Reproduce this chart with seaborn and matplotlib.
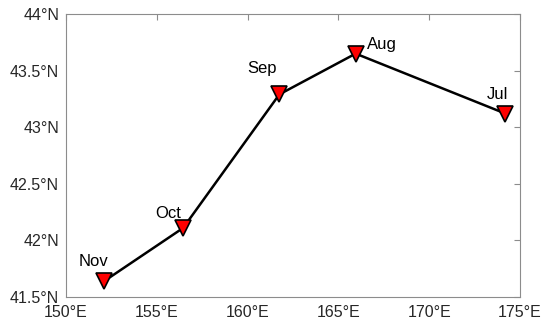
import matplotlib
matplotlib.use("Agg")
import matplotlib.pyplot as plt
import matplotlib.ticker as ticker
import seaborn as sns

# Monthly track positions (lon, lat)
months = ["Nov", "Oct", "Sep", "Aug", "Jul"]
lon = [152.1, 156.45, 161.75, 165.95, 174.2]
lat = [41.64, 42.11, 43.29, 43.65, 43.12]

# label offsets in pixels (dx, dy) relative to each point
label_offsets = [(-11, 20), (-15, 14), (-17, 26), (26, 9), (-8, 19)]

sns.set_theme(style="white")
plt.rcParams["font.family"] = ["Liberation Sans", "DejaVu Sans"]

fig = plt.figure(figsize=(5.5, 3.32), dpi=100)
ax = fig.add_axes([66 / 550, 1 - 297 / 332, 454 / 550, 283 / 332])

sns.lineplot(
    x=lon, y=lat, sort=False, ax=ax, color="black", linewidth=1.8,
    marker="v", markersize=11, markerfacecolor="red",
    markeredgecolor="black", markeredgewidth=1.2,
)

for m, x, y, (dx, dy) in zip(months, lon, lat, label_offsets):
    ax.annotate(m, (x, y), xytext=(dx, dy), textcoords="offset pixels",
                ha="center", va="center", fontsize=12, color="black")

ax.set_xlim(150, 175)
ax.set_ylim(41.5, 44)
ax.set_xticks([150, 155, 160, 165, 170, 175])
ax.set_yticks([41.5, 42, 42.5, 43, 43.5, 44])
ax.xaxis.set_major_formatter(ticker.FuncFormatter(lambda v, _: f"{v:g}°E"))
ax.yaxis.set_major_formatter(ticker.FuncFormatter(lambda v, _: f"{v:g}°N"))

for s in ax.spines.values():
    s.set_visible(True)
    s.set_color("#8c8c8c")
    s.set_linewidth(0.8)
ax.tick_params(direction="in", length=4, width=0.8, color="#8c8c8c",
               top=True, right=True, labelsize=11.5, labelcolor="#262626")
ax.tick_params(axis="x", pad=6)
ax.tick_params(axis="y", pad=5)
ax.grid(False)

fig.savefig("out.png", dpi=100)
